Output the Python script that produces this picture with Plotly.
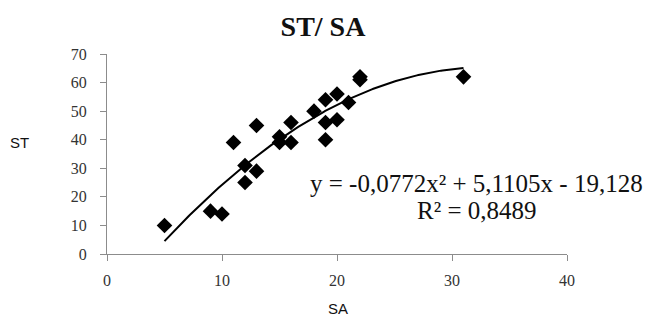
import numpy as np
import plotly.graph_objects as go

# Data
SA = [5, 9, 10, 11, 12, 12, 13, 13, 15, 15, 16, 16, 18, 19, 19, 19, 20, 20, 21, 22, 22, 31]
ST = [10, 15, 14, 39, 25, 31, 29, 45, 41, 39, 39, 46, 50, 40, 46, 54, 47, 56, 53, 61, 62, 62]

# Polynomial trendline (order 2) as printed on the chart
coef_a, coef_b, coef_c = -0.0772, 5.1105, -19.128
eq_text = "y = -0,0772x² + 5,1105x - 19,128"
r2_text = "R² = 0,8489"

x_ticks = [0, 10, 20, 30, 40]
y_ticks = [0, 10, 20, 30, 40, 50, 60, 70]

xs = np.linspace(min(SA), max(SA), 200)
ys = coef_a * xs**2 + coef_b * xs + coef_c

serif = "Liberation Serif, Times New Roman, serif"
sans = "Liberation Sans, Arial, sans-serif"

# plot area in pixels
L, R, T, B = 107, 83, 54, 67
W, H = 650, 321
PW, PH = W - L - R, H - T - B


def px2paper(px, py):
    return (px - L) / PW, (H - B - py) / PH


fig = go.Figure()
fig.add_trace(go.Scatter(
    x=SA, y=ST, mode="markers",
    marker=dict(symbol="diamond", size=12, color="black", line=dict(width=0)),
    showlegend=False, hoverinfo="x+y"))
fig.add_trace(go.Scatter(
    x=xs, y=ys, mode="lines", line=dict(color="black", width=2),
    showlegend=False, hoverinfo="skip"))

tick_font = dict(family=serif, size=16, color="#333333")
axis_common = dict(
    showgrid=False, zeroline=False, showline=True, linecolor="#8c8c8c", linewidth=1.3,
    ticks="outside", ticklen=6, tickcolor="#8c8c8c", tickwidth=1.3,
)


def ann(text, px, py, family, size):
    x, y = px2paper(px, py)
    return dict(text=text, x=x, y=y, xref="paper", yref="paper",
                xanchor="center", yanchor="middle", showarrow=False,
                font=dict(family=family, size=size, color="#111"))


fig.update_layout(
    width=W, height=H,
    margin=dict(l=L, r=R, t=T, b=B),
    paper_bgcolor="white", plot_bgcolor="white",
    font=dict(family=serif, size=16, color="#333333"),
    title=dict(text="<b>ST/ SA</b>", x=323 / W, xanchor="center", y=1 - 26 / H, yanchor="middle",
               font=dict(family=serif, size=28, color="#111")),
    xaxis=dict(range=[0, 40], tickvals=x_ticks, ticklabelstandoff=6, tickfont=tick_font, **axis_common),
    yaxis=dict(range=[0, 70], tickvals=y_ticks, ticklabelstandoff=10, tickfont=tick_font, **axis_common),
    annotations=[
        ann(eq_text, 476, 183, serif, 25),
        ann(r2_text, 477, 210, serif, 25),
        ann("ST", 19, 142, sans, 15),
        ann("SA", 338, 308, sans, 15),
    ],
)

fig.write_html("out.html")
